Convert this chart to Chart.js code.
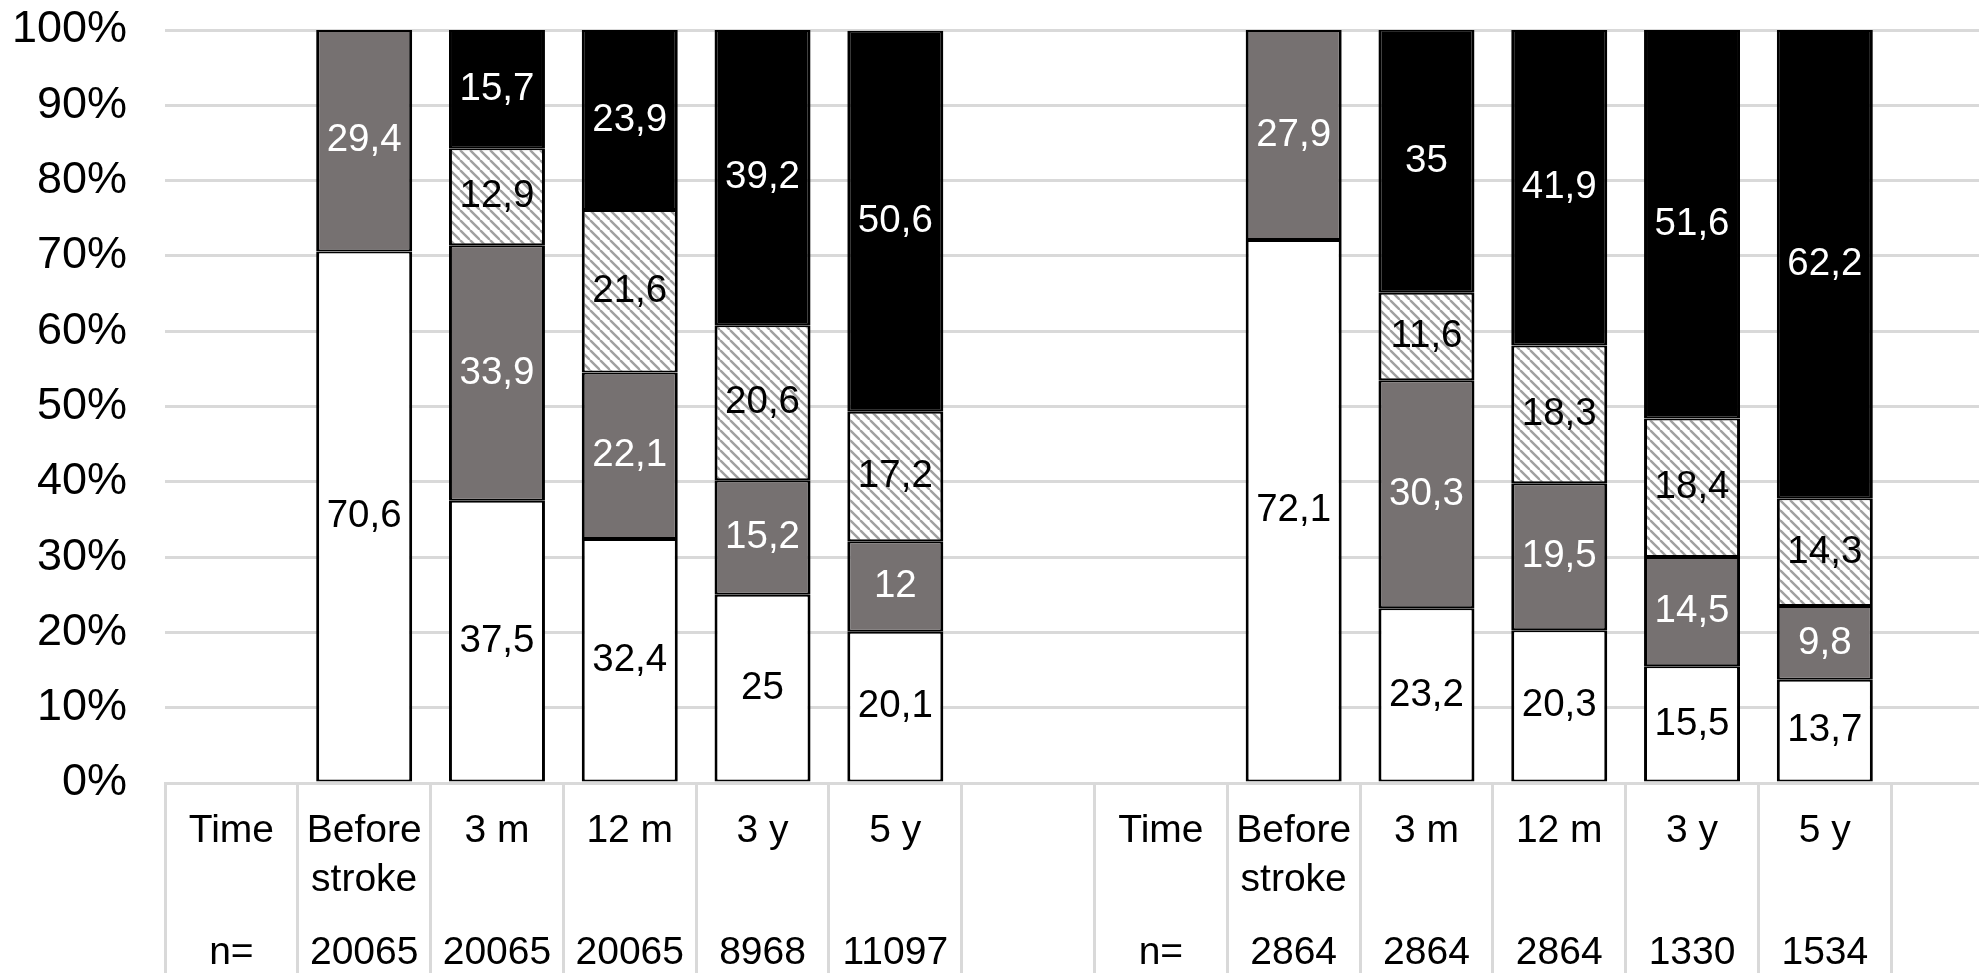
<!DOCTYPE html>
<html>
<head>
<meta charset="utf-8">
<style>
  html, body { margin: 0; padding: 0; background: #fff; overflow: hidden; }
  #wrap { width: 2024px; height: 973px; }
</style>
<script src="https://cdn.jsdelivr.net/npm/chart.js@4.4.1/dist/chart.umd.min.js"></script>
</head>
<body>
<div id="wrap"><canvas id="c" width="2024" height="973"></canvas></div>
<script>
// ---- data ----
const categories = ["Time", ["Before", "stroke"], "3 m", "12 m", "3 y", "5 y", "",
                    "Time", ["Before", "stroke"], "3 m", "12 m", "3 y", "5 y", ""];
const nLabels = ["n=", "20065", "20065", "20065", "8968", "11097", "",
                 "n=", "2864", "2864", "2864", "1330", "1534", ""];
const seriesWhite   = [null, 70.6, 37.5, 32.4, 25,   20.1, null, null, 72.1, 23.2, 20.3, 15.5, 13.7, null];
const seriesGray    = [null, 29.4, 33.9, 22.1, 15.2, 12,   null, null, 27.9, 30.3, 19.5, 14.5, 9.8,  null];
const seriesHatched = [null, null, 12.9, 21.6, 20.6, 17.2, null, null, null, 11.6, 18.3, 18.4, 14.3, null];
const seriesBlack   = [null, null, 15.7, 23.9, 39.2, 50.6, null, null, null, 35,   41.9, 51.6, 62.2, null];
const yMin = 0, yMax = 100, yStep = 10;

// ---- hatch pattern ----
function makeHatch() {
  const s = 10;
  const pc = document.createElement('canvas');
  pc.width = s; pc.height = s;
  const g = pc.getContext('2d');
  g.fillStyle = '#ffffff';
  g.fillRect(0, 0, s, s);
  g.strokeStyle = '#a0a0a0';
  g.lineWidth = 2.4;
  for (const k of [-s, 0, s]) {
    g.beginPath();
    g.moveTo(k, 0);
    g.lineTo(k + s, s);
    g.stroke();
  }
  return g.createPattern(pc, 'repeat');
}
const ctx = document.getElementById('c').getContext('2d');
const hatch = makeHatch();

const FONT = '"Liberation Sans", Arial, sans-serif';

const barBorder = { left: 3, right: 3, top: 2, bottom: 2 };
function ds(label, data, bg, textColor) {
  return {
    label, data,
    backgroundColor: bg,
    borderColor: '#000000',
    borderWidth: barBorder,
    borderSkipped: false,
    barPercentage: 0.723,
    categoryPercentage: 1.0,
    labelColor: textColor
  };
}

const valueLabels = {
  id: 'valueLabels',
  afterDatasetsDraw(chart) {
    const c = chart.ctx;
    c.save();
    c.font = '38.5px ' + FONT;
    c.textAlign = 'center';
    c.textBaseline = 'middle';
    chart.data.datasets.forEach((d, i) => {
      const meta = chart.getDatasetMeta(i);
      meta.data.forEach((el, j) => {
        const v = d.data[j];
        if (v === null || v === undefined) return;
        const p = el.getProps(['x', 'y', 'base'], true);
        c.fillStyle = d.labelColor;
        c.fillText(String(v).replace('.', ','), p.x, (p.y + p.base) / 2);
      });
    });
    c.restore();
  }
};

new Chart(ctx, {
  type: 'bar',
  data: {
    labels: categories,
    datasets: [
      ds('s1', seriesWhite, '#ffffff', '#000000'),
      ds('s2', seriesGray, '#767171', '#ffffff'),
      ds('s3', seriesHatched, hatch, '#000000'),
      ds('s4', seriesBlack, '#000000', '#ffffff')
    ]
  },
  options: {
    responsive: false,
    animation: false,
    layout: { padding: { top: 30, right: 0, bottom: 0, left: 0 } },
    plugins: { legend: { display: false }, tooltip: { enabled: false } },
    scales: {
      x: {
        stacked: true,
        offset: true,
        afterFit(scale) { scale.height = 190; scale.paddingLeft = 0; scale.paddingRight = 0; },
        grid: {
          offset: true,
          drawOnChartArea: false,
          drawTicks: true,
          tickLength: 190,
          color: '#d9d9d9',
          lineWidth: 3
        },
        border: { display: true, color: '#d9d9d9', width: 3 },
        ticks: {
          autoSkip: false,
          maxRotation: 0,
          minRotation: 0,
          padding: -154.2,
          color: '#000000',
          font: { family: FONT, size: 39, lineHeight: '24.4px' },
          callback(value, index) {
            const c = categories[index];
            const lines = Array.isArray(c) ? c : [c];
            return [lines[0] || '', '', lines[1] || '', '', '', nLabels[index]];
          }
        }
      },
      y: {
        stacked: true,
        min: yMin,
        max: yMax,
        afterFit(scale) { scale.width = 165; scale.paddingTop = 0; scale.paddingBottom = 0; },
        grid: { color: '#d9d9d9', lineWidth: 3, drawTicks: false },
        border: { display: false },
        ticks: {
          stepSize: yStep,
          padding: 38,
          color: '#000000',
          font: { family: FONT, size: 45 },
          callback: (v) => v + '%'
        }
      }
    }
  },
  plugins: [valueLabels]
});
</script>
</body>
</html>
